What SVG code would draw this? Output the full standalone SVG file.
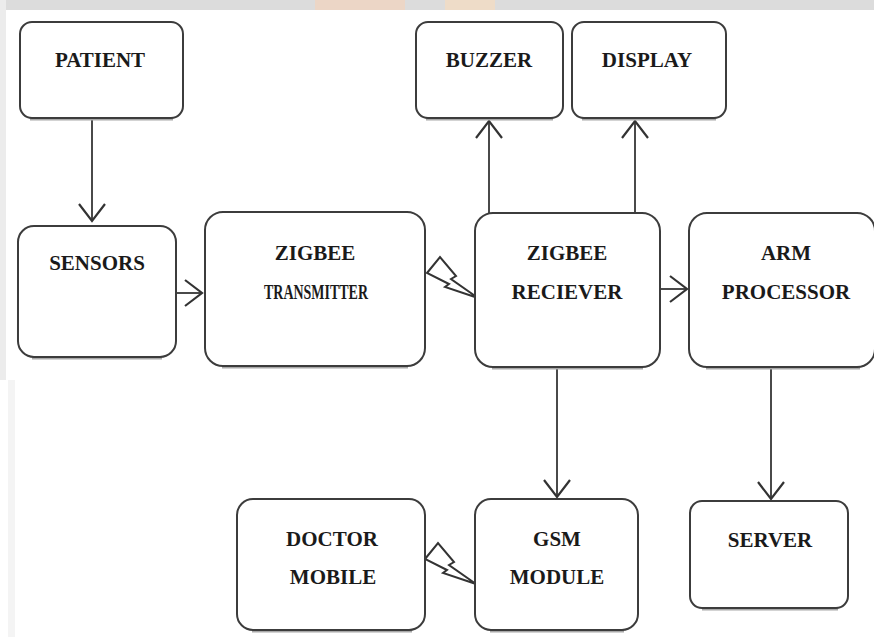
<svg xmlns="http://www.w3.org/2000/svg" width="874" height="637" viewBox="0 0 874 637">
<defs>
<style>
.box{fill:#fff;stroke:#3c3c3c;stroke-width:2}
.sh{fill:none;stroke:#a8a8a8;stroke-width:3}
.lbl{font-family:"Liberation Serif","Times New Roman",serif;font-weight:bold;font-size:21px;fill:#1a1a1a;text-anchor:middle}
.ln{stroke:#4a4a4a;stroke-width:2;fill:none}
.bolt{fill:#fff;stroke:#333;stroke-width:2;stroke-linejoin:miter}
</style>
<marker id="ch" markerUnits="userSpaceOnUse" markerWidth="22" markerHeight="32" viewBox="0 0 22 32" refX="19" refY="16" orient="auto">
<path d="M2,3 L19,16 L2,29" fill="none" stroke="#333" stroke-width="2.2"/>
</marker>
</defs>
<rect x="0" y="0" width="874" height="637" fill="#fff"/>
<rect x="0" y="0" width="874" height="10" fill="#dcdcdc"/>
<rect x="315" y="0" width="90" height="10" fill="#ecd6c6"/>
<rect x="445" y="0" width="50" height="10" fill="#eedcc8"/>
<rect x="0" y="0" width="6" height="380" fill="#ececec"/>
<rect x="8" y="380" width="7" height="257" fill="#f4f4f4"/>

<g id="connectors">
<line class="ln" x1="92" y1="118" x2="92" y2="221" marker-end="url(#ch)"/>
<line class="ln" x1="176" y1="293" x2="202" y2="293" marker-end="url(#ch)"/>
<line class="ln" x1="489" y1="213" x2="489" y2="121" marker-end="url(#ch)"/>
<line class="ln" x1="635" y1="213" x2="635" y2="121" marker-end="url(#ch)"/>
<line class="ln" x1="660" y1="289" x2="687" y2="289" marker-end="url(#ch)"/>
<line class="ln" x1="557" y1="367" x2="557" y2="497" marker-end="url(#ch)"/>
<line class="ln" x1="771" y1="367" x2="771" y2="499" marker-end="url(#ch)"/>
<polygon class="bolt" points="427,273 440,257 456,276 451,279 478,298 445,287 449,284"/>
<polygon class="bolt" points="425,559 438,543 454,562 449,565 476,584 443,573 447,570"/>
</g>

<g id="patient">
<line class="sh" x1="30" y1="119" x2="173" y2="119"/>
<rect class="box" x="20" y="22" width="163" height="96" rx="12"/>
<text class="lbl" x="100" y="67">PATIENT</text>
</g>
<g id="buzzer">
<line class="sh" x1="426" y1="119" x2="553" y2="119"/>
<rect class="box" x="416" y="22" width="147" height="96" rx="12"/>
<text class="lbl" x="489" y="67">BUZZER</text>
</g>
<g id="display">
<line class="sh" x1="582" y1="119" x2="716" y2="119"/>
<rect class="box" x="572" y="22" width="154" height="96" rx="12"/>
<text class="lbl" x="647" y="67">DISPLAY</text>
</g>
<g id="sensors">
<line class="sh" x1="32" y1="358" x2="162" y2="358"/>
<rect class="box" x="18" y="226" width="158" height="131" rx="16"/>
<text class="lbl" x="97" y="270">SENSORS</text>
</g>
<g id="zigbee-transmitter">
<line class="sh" x1="222" y1="367" x2="408" y2="367"/>
<rect class="box" x="205" y="212" width="220" height="154" rx="18"/>
<text class="lbl" x="315" y="260">ZIGBEE</text>
<text class="lbl" x="316" y="299" textLength="104" lengthAdjust="spacingAndGlyphs">TRANSMITTER</text>
</g>
<g id="zigbee-receiver">
<line class="sh" x1="492" y1="368" x2="643" y2="368"/>
<rect class="box" x="475" y="213" width="185" height="154" rx="18"/>
<text class="lbl" x="567" y="260">ZIGBEE</text>
<text class="lbl" x="567" y="299">RECIEVER</text>
</g>
<g id="arm-processor">
<line class="sh" x1="706" y1="368" x2="860" y2="368"/>
<rect class="box" x="689" y="213" width="186" height="154" rx="18"/>
<text class="lbl" x="786" y="260">ARM</text>
<text class="lbl" x="786" y="299">PROCESSOR</text>
</g>
<g id="doctor-mobile">
<line class="sh" x1="252" y1="631" x2="412" y2="631"/>
<rect class="box" x="237" y="499" width="188" height="131" rx="16"/>
<text class="lbl" x="332" y="546">DOCTOR</text>
<text class="lbl" x="333" y="584">MOBILE</text>
</g>
<g id="gsm-module">
<line class="sh" x1="490" y1="631" x2="624" y2="631"/>
<rect class="box" x="475" y="499" width="163" height="131" rx="16"/>
<text class="lbl" x="557" y="546">GSM</text>
<text class="lbl" x="557" y="584">MODULE</text>
</g>
<g id="server">
<line class="sh" x1="702" y1="609" x2="838" y2="609"/>
<rect class="box" x="690" y="501" width="158" height="107" rx="12"/>
<text class="lbl" x="770" y="547">SERVER</text>
</g>
</svg>
